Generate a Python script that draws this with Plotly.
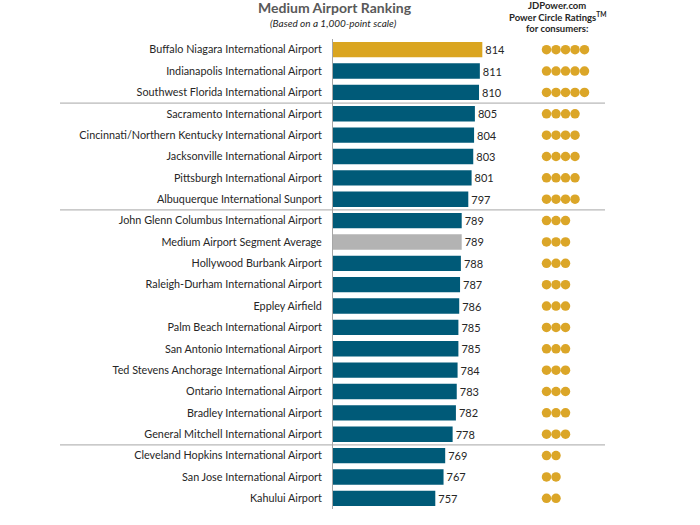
import plotly.graph_objects as go

airports = [
    "Buffalo Niagara International Airport",
    "Indianapolis International Airport",
    "Southwest Florida International Airport",
    "Sacramento International Airport",
    "Cincinnati/Northern Kentucky International Airport",
    "Jacksonville International Airport",
    "Pittsburgh International Airport",
    "Albuquerque International Sunport",
    "John Glenn Columbus International Airport",
    "Medium Airport Segment Average",
    "Hollywood Burbank Airport",
    "Raleigh-Durham International Airport",
    "Eppley Airfield",
    "Palm Beach International Airport",
    "San Antonio International Airport",
    "Ted Stevens Anchorage International Airport",
    "Ontario International Airport",
    "Bradley International Airport",
    "General Mitchell International Airport",
    "Cleveland Hopkins International Airport",
    "San Jose International Airport",
    "Kahului Airport",
]
scores = [814, 811, 810, 805, 804, 803, 801, 797, 789, 789, 788, 787, 786,
          785, 785, 784, 783, 782, 778, 769, 767, 757]
ratings = [5, 5, 5, 4, 4, 4, 4, 4, 3, 3, 3, 3, 3, 3, 3, 3, 3, 3, 3, 2, 2, 2]
group_breaks = [2.5, 7.5, 18.5]

GOLD = "#DAA520"
TEAL = "#005A78"
GRAY = "#B3B3B3"
colors = []
for i, a in enumerate(airports):
    if i == 0:
        colors.append(GOLD)
    elif "Average" in a:
        colors.append(GRAY)
    else:
        colors.append(TEAL)

FONT = "Lato"

fig = go.Figure()
fig.add_trace(go.Bar(
    x=scores, y=airports, orientation="h",
    marker=dict(color=colors, line=dict(width=0)),
    width=0.72,
    text=[str(s) for s in scores], textposition="outside",
    textfont=dict(size=11, color="#262626", family=FONT),
    cliponaxis=False, hoverinfo="skip",
))

cx, cy = [], []
for a, r in zip(airports, ratings):
    for k in range(1, r + 1):
        cx.append(k)
        cy.append(a)
fig.add_trace(go.Scatter(
    x=cx, y=cy, xaxis="x2", mode="markers",
    marker=dict(size=9.5, color="#DBA628", line=dict(width=0)),
    hoverinfo="skip", cliponaxis=False,
))

L, R = 333, 700
W = R - L
fig.update_layout(
    width=700, height=525,
    margin=dict(l=L, r=0, t=39, b=16),
    paper_bgcolor="white", plot_bgcolor="white",
    showlegend=False,
    font=dict(family=FONT, color="#262626"),
    xaxis=dict(range=[633, 633 + W / 0.825], visible=False, fixedrange=True),
    xaxis2=dict(range=[1 - 213.5 / 9.5, 1 - 213.5 / 9.5 + W / 9.5],
                overlaying="x", visible=False),
    yaxis=dict(
        type="category", categoryorder="array", categoryarray=airports,
        range=[len(airports) - 0.5, -0.5],
        showgrid=False, zeroline=False,
        showline=True, linecolor="#A6A6A6", linewidth=1,
        ticks="", ticklabelstandoff=8,
        tickfont=dict(size=10.8, color="#262626", family=FONT),
    ),
)

for b in group_breaks:
    fig.add_shape(type="line", xref="paper", yref="y",
                  x0=(60 - L) / W, x1=(605 - L) / W, y0=b, y1=b,
                  line=dict(color="#A6A6A6", width=1))

fig.add_annotation(text="<b>Medium Airport Ranking</b>", xref="paper", yref="paper",
                   x=(335 - L) / W, y=1, yshift=32, showarrow=False, xanchor="center",
                   font=dict(size=14, color="#595959", family=FONT), yanchor="middle")
fig.add_annotation(text="<i>(Based on a 1,000-point scale)</i>", xref="paper", yref="paper",
                   x=(333 - L) / W, y=1, yshift=16, showarrow=False, xanchor="center",
                   font=dict(size=10, color="#262626", family=FONT), yanchor="middle")
header = ["<b>JDPower.com</b>", "<b>Power Circle Ratings<sup>TM</sup></b>", "<b>for consumers:</b>"]
for i, h in enumerate(header):
    fig.add_annotation(text=h, xref="paper", yref="paper",
                       x=(557 - L) / W, y=1, yshift=34 - 11.5 * i, showarrow=False,
                       xanchor="center",
                       font=dict(size=9.5, color="#262626", family=FONT), yanchor="middle")

fig.write_html("out.html", config={"displayModeBar": False},
               post_script="document.body.style.margin='0';")
